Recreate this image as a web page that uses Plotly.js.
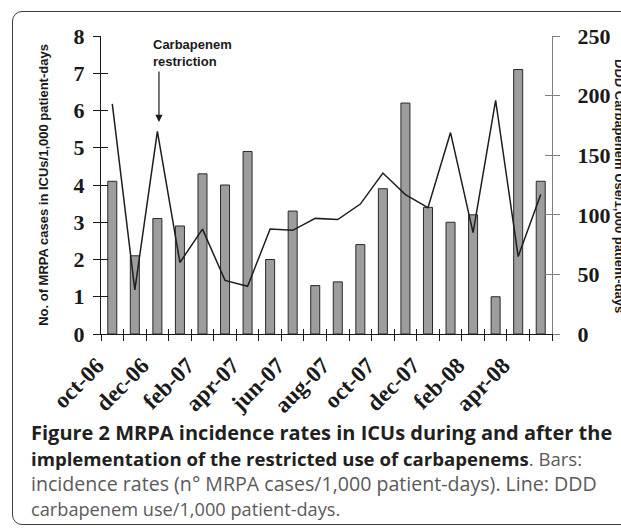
<!DOCTYPE html>
<html><head><meta charset="utf-8">
<script src="https://cdn.plot.ly/plotly-3.0.1.min.js"></script>
<style>
html,body{margin:0;padding:0;background:#fff;overflow:hidden;width:621px;height:528px;}
#frame{position:absolute;left:12px;top:11px;width:660px;height:514px;border:1.5px solid #3c3c3c;border-radius:10px;box-sizing:border-box;}
#chart{position:absolute;left:0;top:0;width:621px;height:528px;}
</style></head><body>
<div id="frame"></div>
<div id="chart"></div>
<script>
// ---- data ----
const months = ['oct-06','nov-06','dec-06','jan-07','feb-07','mar-07','apr-07','may-07','jun-07','jul-07',
                'aug-07','sep-07','oct-07','nov-07','dec-07','jan-08','feb-08','mar-08','apr-08','may-08'];
const mrpaRates = [4.1, 2.1, 3.1, 2.9, 4.3, 4.0, 4.9, 2.0, 3.3, 1.3,
                   1.4, 2.4, 3.9, 6.2, 3.4, 3.0, 3.2, 1.0, 7.1, 4.1];
const dddUse = [193, 37, 170, 60, 88, 45, 40, 88, 87, 97,
                96, 109, 135, 117, 106, 169, 85, 196, 65, 117];
const leftTicks = [0,1,2,3,4,5,6,7,8];
const rightTicks = [0,50,100,150,200,250];

const idx = months.map((m,i)=>i);
const labelIdx = idx.filter(i=>i%2===0);
const labelText = labelIdx.map(i=>months[i]);
const boundaries = idx.map(i=>i-0.5).concat([months.length-0.5]);
const xr = [-0.5, months.length-0.5];

const tickFont = {family:'Liberation Serif, Times New Roman, serif', size:22, color:'#1a1a1a', weight:'bold'};
const xFont = {family:'Liberation Serif, Times New Roman, serif', size:23, color:'#1a1a1a', weight:'bold'};
const titleFont = {family:'Liberation Sans, Arial, sans-serif', size:13, color:'#1a1a1a', weight:'bold'};

const traces = [
  {type:'bar', x:idx, y:mrpaRates, width:0.4, xaxis:'x', yaxis:'y',
   marker:{color:'#9d9d9d', line:{color:'#2a2a2a', width:1}}, hoverinfo:'skip'},
  {type:'scatter', mode:'lines', x:idx, y:dddUse, xaxis:'x', yaxis:'y2',
   line:{color:'#1e1e1e', width:1.5}, hoverinfo:'skip'},
  // carriers for the inner tick marks (draw nothing)
  {type:'scatter', mode:'none', x:idx, y:mrpaRates, xaxis:'x2', yaxis:'y3', hoverinfo:'skip'},
  {type:'scatter', mode:'none', x:idx, y:dddUse, xaxis:'x3', yaxis:'y4', hoverinfo:'skip'}
];

function capFont(size, color){ return {family:'Open Sans, sans-serif', size:size, color:color}; }
function px2py(p){ return (334-p)/298; }
function px2px(p){ return (p-101)/451; }

const layout = {
  width:621, height:528,
  margin:{l:101, r:69, t:36, b:194},
  paper_bgcolor:'rgba(0,0,0,0)', plot_bgcolor:'rgba(0,0,0,0)',
  showlegend:false, bargap:0,
  xaxis:{range:xr, tickmode:'array', tickvals:labelIdx, ticktext:labelText, ticks:'',
         tickangle:-45, tickfont:xFont, showline:true, linecolor:'#1a1a1a', linewidth:1,
         showgrid:false, zeroline:false, ticklabelstandoff:8, ticklabelshift:-15},
  xaxis2:{range:xr, overlaying:'x', anchor:'y', side:'bottom', tickmode:'array', tickvals:boundaries,
          ticks:'outside', ticklen:6, tickcolor:'#1a1a1a', showticklabels:false, showline:false, showgrid:false, zeroline:false},
  xaxis3:{range:xr, overlaying:'x', anchor:'y', side:'bottom', tickmode:'array', tickvals:boundaries,
          ticks:'inside', ticklen:5, tickcolor:'#1a1a1a', showticklabels:false, showline:false, showgrid:false, zeroline:false},
  yaxis:{range:[0,8], tickmode:'array', tickvals:leftTicks, ticks:'outside', ticklen:7, tickcolor:'#1a1a1a',
         tickfont:tickFont, showline:true, linecolor:'#1a1a1a', linewidth:1, showgrid:false, zeroline:false,
         ticklabelstandoff:4,
         title:{text:'No. of MRPA cases in ICUs/1,000 patient-days', font:titleFont, standoff:22}},
  yaxis3:{range:[0,8], overlaying:'y', anchor:'x2', side:'left', tickmode:'array', tickvals:leftTicks,
          ticks:'inside', ticklen:7, tickcolor:'#1a1a1a', showticklabels:false, showline:false, showgrid:false, zeroline:false},
  yaxis2:{range:[0,250], overlaying:'y', anchor:'x', side:'right', tickmode:'array', tickvals:rightTicks,
          ticks:'outside', ticklen:7, tickcolor:'#808080', tickfont:tickFont, showline:true, linecolor:'#808080',
          linewidth:1, showgrid:false, zeroline:false, ticklabelstandoff:13},
  yaxis4:{range:[0,250], overlaying:'y', anchor:'x3', side:'right', tickmode:'array', tickvals:rightTicks,
          ticks:'inside', ticklen:7, tickcolor:'#808080', showticklabels:false, showline:false, showgrid:false, zeroline:false},
  annotations:[
    {xref:'paper', yref:'paper', x:px2px(151), y:px2py(35), xanchor:'left', yanchor:'top', align:'left',
     showarrow:false, text:'Carbapenem<br>restriction', font:titleFont},
    {xref:'x', yref:'y', x:2.07, y:5.69, ax:0, ay:-52, text:'', showarrow:true,
     arrowhead:2, arrowsize:1.2, arrowwidth:1.2, arrowcolor:'#1a1a1a'},
    {xref:'paper', yref:'paper', x:px2px(620), y:px2py(186), xanchor:'center', yanchor:'middle', textangle:90,
     showarrow:false, text:'DDD Carbapenem Use/1,000 patient-days', font:titleFont},
    {xref:'paper', yref:'paper', x:px2px(29), y:px2py(432), xanchor:'left', yanchor:'middle', showarrow:false, align:'left',
     text:'<b>Figure 2 MRPA incidence rates in ICUs during and after the</b>', font:capFont(20,'#231f20')},
    {xref:'paper', yref:'paper', x:px2px(29), y:px2py(458), xanchor:'left', yanchor:'middle', showarrow:false, align:'left',
     text:'<b>implementation of the restricted use of carbapenems</b><span style="color:#5a5a5a">. Bars:</span>', font:capFont(18.6,'#231f20')},
    {xref:'paper', yref:'paper', x:px2px(29), y:px2py(483), xanchor:'left', yanchor:'middle', showarrow:false, align:'left',
     text:'incidence rates (n° MRPA cases/1,000 patient-days). Line: DDD', font:capFont(19.6,'#5a5a5a')},
    {xref:'paper', yref:'paper', x:px2px(29), y:px2py(509), xanchor:'left', yanchor:'middle', showarrow:false, align:'left',
     text:'carbapenem use/1,000 patient-days.', font:capFont(18.2,'#5a5a5a')}
  ]
};

Plotly.newPlot('chart', traces, layout, {staticPlot:true, displayModeBar:false});
</script>
</body></html>
